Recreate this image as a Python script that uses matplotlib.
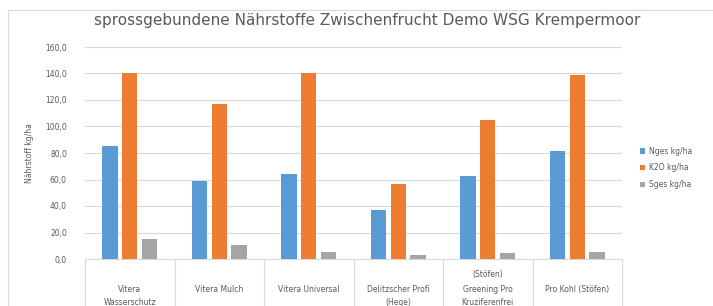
import matplotlib.pyplot as plt
import numpy as np
from matplotlib.patches import Rectangle

categories = ["Vitera\nWasserschutz", "Vitera Mulch", "Vitera Universal",
              "Delitzscher Profi\n(Hege)", "Greening Pro\nKruziferenfrei",
              "Pro Kohl (Stöfen)"]
series_names = ["Nges kg/ha", "K2O kg/ha", "Sges kg/ha"]
nges = [85.5, 58.6, 64.4, 37.0, 62.9, 81.8]
k2o = [140.0, 116.7, 140.0, 56.8, 105.0, 138.9]
sges = [15.0, 10.4, 5.3, 3.0, 4.8, 5.5]
yticks = [0, 20, 40, 60, 80, 100, 120, 140, 160]
ytick_labels = ["0,0", "20,0", "40,0", "60,0", "80,0", "100,0", "120,0", "140,0", "160,0"]

colors = ["#5B9BD5", "#ED7D31", "#A5A5A5"]
text_color = "#595959"
grid_color = "#D9D9D9"

fig = plt.figure(figsize=(7.13, 3.06), dpi=100)
# chart area border
fig.patches.append(Rectangle((8 / 713, -0.05), 1.0, 1 - 10 / 306 + 0.05,
                             transform=fig.transFigure, fill=False,
                             edgecolor=grid_color, linewidth=0.8))

ax = fig.add_axes([85 / 713, 1 - 259 / 306, (622 - 85) / 713, (259 - 47) / 306])

x = np.arange(len(categories))
width = 0.173
step = 0.223
for i, (vals, name, c) in enumerate(zip([nges, k2o, sges], series_names, colors)):
    ax.bar(x + (i - 1) * step, vals, width=width, color=c, label=name, zorder=3)

ax.set_xlim(-0.5, len(categories) - 0.5)
ax.set_ylim(0, 160)
ax.set_yticks(yticks)
ax.set_yticklabels(ytick_labels, fontsize=5.5, color=text_color)
ax.yaxis.grid(True, color=grid_color, linewidth=0.8, zorder=0)
ax.tick_params(axis="y", length=0, pad=13)
ax.set_xticks(x)
ax.set_xticklabels(categories, fontsize=5.5, color=text_color, linespacing=1.5)
ax.tick_params(axis="x", length=0, pad=19)
for s in ["top", "right", "left"]:
    ax.spines[s].set_visible(False)
ax.spines["bottom"].set_color(grid_color)
ax.spines["bottom"].set_linewidth(0.8)

# category separators below the axis
for b in np.arange(-0.5, len(categories), 1.0):
    ax.plot([b, b], [0, -0.23], transform=ax.get_xaxis_transform(),
            color=grid_color, linewidth=0.8, clip_on=False)
ax.text(4, -0.05, "(Stöfen)", transform=ax.get_xaxis_transform(),
        ha="center", va="top", fontsize=5.5, color=text_color)

ax.set_ylabel("Nährstoff kg/ha", fontsize=5.5, color=text_color, labelpad=8)
fig.text(367 / 713, 1 - 20 / 306,
         "sprossgebundene Nährstoffe Zwischenfrucht Demo WSG Krempermoor",
         ha="center", va="center", fontsize=11, color=text_color)

ax.legend(loc="center left", bbox_to_anchor=(1.02, 0.43), frameon=False,
          fontsize=5.5, labelcolor=text_color, handlelength=0.7, handleheight=0.7,
          handletextpad=0.5, labelspacing=1.0)

fig.savefig("out.png", dpi=100)
